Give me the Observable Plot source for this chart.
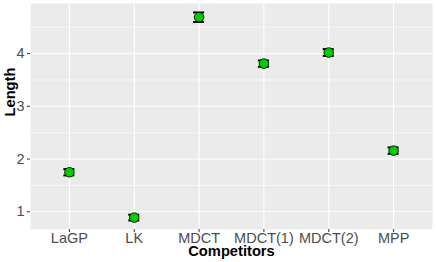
<!DOCTYPE html>
<html>
<head>
<meta charset="utf-8">
<script src="https://cdn.jsdelivr.net/npm/d3@7"></script>
<script src="https://cdn.jsdelivr.net/npm/@observablehq/plot@0.6"></script>
<style>
  html, body { margin: 0; padding: 0; background: #fff; }
  svg { display: block; }
</style>
</head>
<body>
<div id="chart"></div>
<script>
const competitors = ["LaGP", "LK", "MDCT", "MDCT(1)", "MDCT(2)", "MPP"];
const lengths = [1.75, 0.89, 4.69, 3.81, 4.02, 2.16];
const errors = [0.06, 0.055, 0.09, 0.06, 0.065, 0.06];
const yTicks = [1, 2, 3, 4];
const yMinor = [1.5, 2.5, 3.5, 4.5];

const data = competitors.map((c, i) => ({
  name: c, len: lengths[i], lo: lengths[i] - errors[i], hi: lengths[i] + errors[i]
}));

const chart = Plot.plot({
  width: 436,
  height: 262,
  marginLeft: 30,
  marginRight: 4,
  marginTop: 3,
  marginBottom: 33,
  style: { fontFamily: "Liberation Sans, Arial, Helvetica, sans-serif", fontSize: "14.5px", background: "#fff" },
  x: { type: "band", domain: competitors, paddingInner: 0.83, paddingOuter: 0.515, round: false, label: null },
  y: { domain: [0.664, 4.95], label: null },
  marks: [
    Plot.frame({ fill: "#EBEBEB", stroke: null }),
    Plot.ruleY(yMinor, { stroke: "#fff", strokeWidth: 0.55 }),
    Plot.ruleY(yTicks, { stroke: "#fff", strokeWidth: 1.1 }),
    Plot.ruleX(competitors, { stroke: "#fff", strokeWidth: 1.1 }),
    Plot.axisY({ ticks: yTicks, tickFormat: d3.format("d"), tickSize: 3, tickPadding: 3, fontSize: 14.5, fill: "#4D4D4D", stroke: "#333", label: null }),
    Plot.axisX({ tickSize: 3, tickPadding: 0, fontSize: 14.5, fill: "#4D4D4D", stroke: "#333", label: null }),
    Plot.ruleX(data, { x: "name", y1: "lo", y2: "hi", stroke: "#000", strokeWidth: 1.5 }),
    Plot.tickY(data, { x: "name", y: "lo", stroke: "#000", strokeWidth: 2 }),
    Plot.tickY(data, { x: "name", y: "hi", stroke: "#000", strokeWidth: 2 }),
    Plot.dot(data, { x: "name", y: "len", r: 4.8, fill: "#00CC00", stroke: "#000", strokeWidth: 0.8 }),
    Plot.text(["Length"], { text: d => d, frameAnchor: "left", dx: -20, rotate: -90, fontSize: 14.7, fontWeight: "bold", fill: "#000" }),
    Plot.text(["Competitors"], { text: d => d, frameAnchor: "bottom", dy: 26, fontSize: 14.7, fontWeight: "bold", fill: "#000" })
  ]
});
document.getElementById("chart").appendChild(chart);
</script>
</body>
</html>
